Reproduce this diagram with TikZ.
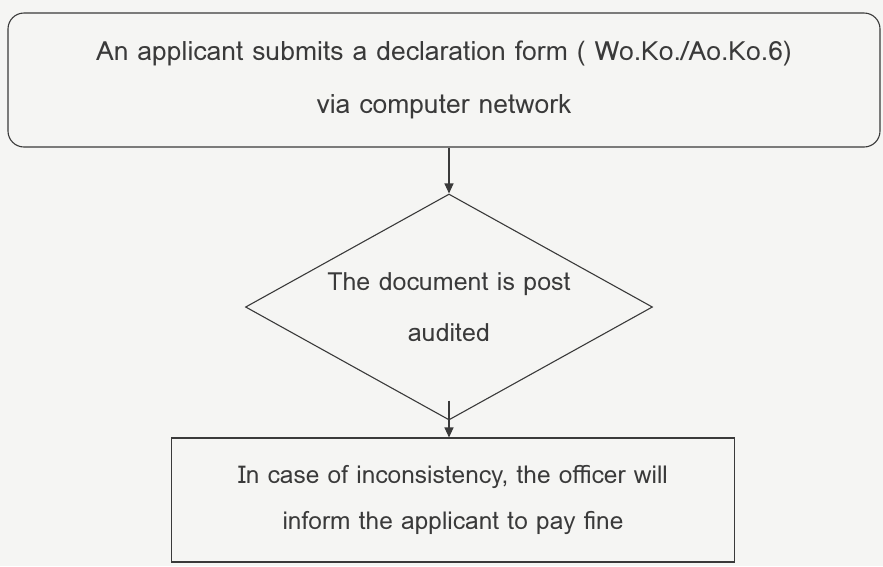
\documentclass[tikz,border=0pt]{standalone}
\usepackage{fontspec}
\setmainfont{Loma}
\usetikzlibrary{shapes.geometric,arrows.meta}
\definecolor{ink}{HTML}{3A3A3A}
\definecolor{paper}{HTML}{F5F5F3}
\tikzset{
  every node/.style={text=ink},
  box/.style={draw=ink, line width=1.1pt, align=center, inner sep=0pt},
  dia/.style={draw=ink, line width=1.1pt, diamond, aspect=1.8, align=center, inner sep=0pt},
  flow/.style={draw=ink, line width=1.1pt, -{Triangle[length=10pt,width=9pt]}},
}
\begin{document}
\begin{tikzpicture}[x=1pt,y=-1pt]
\fill[paper] (0,0) rectangle (883,566);
\useasboundingbox (0,0) rectangle (883,566);
\node[box, rounded corners=16pt, minimum width=872pt, minimum height=134pt,
      font=\fontsize{26.5}{53}\selectfont] (top) at (444,80)
  {An applicant submits a declaration form ( Wo.Ko./Ao.Ko.6)\\via computer network};
\node[dia, minimum width=407pt, minimum height=226pt,
      font=\fontsize{25}{51}\selectfont] (audit) at (449,307)
  {The document is post\\audited};
\node[box, minimum width=563pt, minimum height=124pt,
      font=\fontsize{24.5}{46}\selectfont] (fine) at (453,500)
  {In case of inconsistency, the officer will\\inform the applicant to pay fine};
\draw[flow] (audit.north |- top.south) -- (audit.north);
\draw[flow] ([yshift=20pt]audit.south) -- (audit.south |- fine.north);
\end{tikzpicture}
\end{document}
